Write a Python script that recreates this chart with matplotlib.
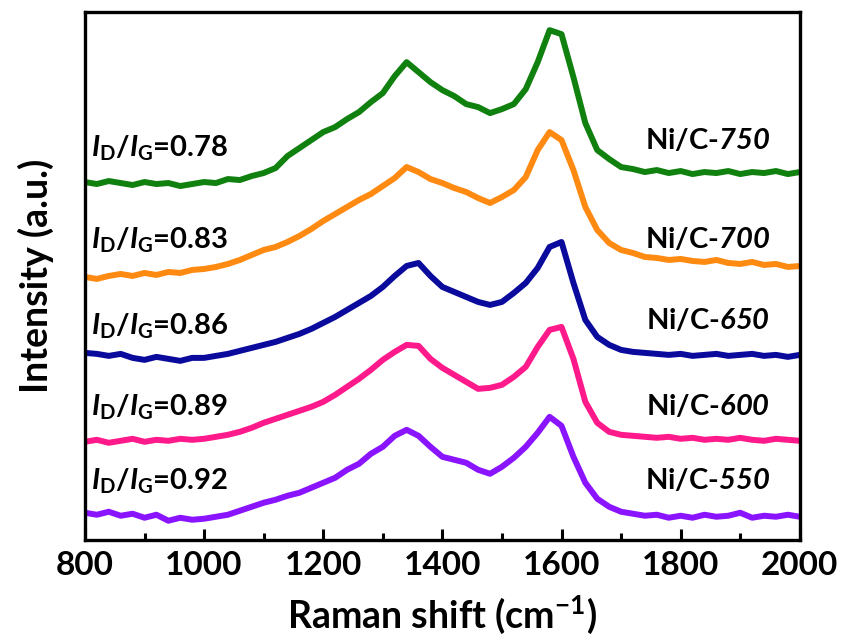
import matplotlib
matplotlib.use("Agg")
import matplotlib.pyplot as plt
from matplotlib.ticker import MultipleLocator


# Raman shift sampling (cm-1)
shift = [800, 820, 840, 860, 880, 900, 920, 940, 960, 980,
         1000, 1020, 1040, 1060, 1080, 1100, 1120, 1140, 1160, 1180,
         1200, 1220, 1240, 1260, 1280, 1300, 1320, 1340, 1360, 1380,
         1400, 1420, 1440, 1460, 1480, 1500, 1520, 1540, 1560, 1580,
         1600, 1620, 1640, 1660, 1680, 1700, 1720, 1740, 1760, 1780,
         1800, 1820, 1840, 1860, 1880, 1900, 1920, 1940, 1960, 1980, 2000]

# stacked intensities (a.u., offset already included)
ni_c_750 = [358, 356, 359, 357, 355, 358, 356, 357, 354, 356,
            358, 357, 361, 360, 364, 367, 372, 384, 392, 400,
            408, 413, 421, 428, 438, 447, 464, 478, 468, 458,
            450, 444, 436, 433, 427, 431, 436, 451, 478, 510,
            506, 463, 417, 390, 381, 373, 371, 368, 370, 367,
            369, 366, 368, 367, 369, 366, 368, 367, 369, 366, 368]
ni_c_700 = [263, 261, 264, 266, 264, 267, 265, 268, 267, 270,
            271, 273, 276, 280, 285, 290, 293, 298, 304, 311,
            319, 326, 333, 340, 346, 354, 362, 373, 368, 361,
            357, 352, 348, 342, 337, 343, 350, 363, 390, 408,
            400, 370, 333, 310, 297, 290, 287, 283, 282, 280,
            281, 279, 278, 280, 277, 276, 278, 275, 276, 273, 274]
ni_c_650 = [187, 186, 184, 186, 182, 180, 183, 181, 179, 182,
            182, 184, 186, 189, 192, 195, 198, 202, 206, 211,
            217, 223, 230, 237, 244, 253, 264, 274, 277, 264,
            253, 248, 243, 238, 235, 238, 247, 257, 272, 293,
            298, 257, 220, 203, 195, 190, 188, 187, 186, 185,
            186, 184, 185, 186, 184, 185, 186, 184, 185, 183, 185]
ni_c_600 = [98, 100, 97, 99, 101, 98, 100, 99, 101, 100,
            101, 103, 105, 108, 112, 117, 121, 125, 129, 133,
            138, 145, 153, 161, 170, 180, 188, 195, 194, 181,
            172, 165, 158, 151, 152, 155, 163, 173, 193, 210,
            213, 181, 138, 117, 108, 105, 104, 103, 102, 103,
            101, 102, 100, 101, 100, 102, 100, 99, 101, 100, 99]
ni_c_550 = [27, 25, 28, 24, 26, 22, 25, 19, 22, 20,
            21, 23, 25, 29, 33, 37, 40, 44, 47, 52,
            57, 62, 70, 76, 86, 93, 104, 110, 104, 93,
            83, 80, 77, 70, 66, 73, 82, 93, 107, 123,
            114, 83, 57, 41, 33, 28, 26, 24, 25, 22,
            24, 22, 25, 23, 24, 27, 22, 24, 23, 25, 23]

series = [ni_c_750, ni_c_700, ni_c_650, ni_c_600, ni_c_550]
colors = ["#10800f", "#ff8a12", "#0a0a9c", "#ff1a8c", "#8a14ff"]
ratio_labels = ["0.78", "0.83", "0.86", "0.89", "0.92"]
sample_labels = ["750", "700", "650", "600", "550"]
ratio_y = [392, 300, 214, 133, 59]
sample_y = [400, 300, 219, 133, 59]

plt.rcParams.update(
    {
        "font.family": ["Lato", "DejaVu Sans"],
        "font.weight": "bold",
        "mathtext.fontset": "custom",
        "mathtext.rm": "Lato:bold",
        "mathtext.it": "Lato:bold:italic",
        "mathtext.bf": "Lato:bold",
        # mathtext forces digits in \mathit upright, so borrow sf for italic numbers
        "mathtext.sf": "Lato:bold:italic",
    }
)

fig = plt.figure(figsize=(8.41, 6.41), dpi=100)
ax = fig.add_axes([0.101, 0.158, 0.850, 0.823])

for ys, c in zip(series, colors):
    ax.plot(shift, ys, color=c, linewidth=4.3, solid_joinstyle="round")

for lab, y in zip(ratio_labels, ratio_y):
    ax.text(810, y, r"$\mathit{I}_\mathrm{D}$/$\mathit{I}_\mathrm{G}$=" + lab,
            fontsize=21, fontweight="bold", va="center", ha="left")

for lab, y in zip(sample_labels, sample_y):
    ax.text(1950, y, r"Ni/C-$\mathsf{" + lab + "}$",
            fontsize=21, fontweight="bold", va="center", ha="right")

ax.set_xlim(800, 2000)
ax.set_ylim(0, 528)
ax.xaxis.set_major_locator(MultipleLocator(200))
ax.xaxis.set_minor_locator(MultipleLocator(100))
ax.set_yticks([])
ax.tick_params(axis="x", which="major", direction="in", length=8, width=2.2,
               labelsize=24, pad=8)
ax.tick_params(axis="x", which="minor", direction="in", length=5, width=2.2)
for lab in ax.get_xticklabels():
    lab.set_fontweight("bold")
for sp in ax.spines.values():
    sp.set_linewidth(2.4)

ax.set_xlabel(r"Raman shift (cm$^{\mathbf{-1}}$)", fontsize=27, fontweight="bold",
              labelpad=10)
ax.set_ylabel("Intensity (a.u.)", fontsize=27, fontweight="bold", labelpad=22)

fig.savefig("out.png", dpi=100)
